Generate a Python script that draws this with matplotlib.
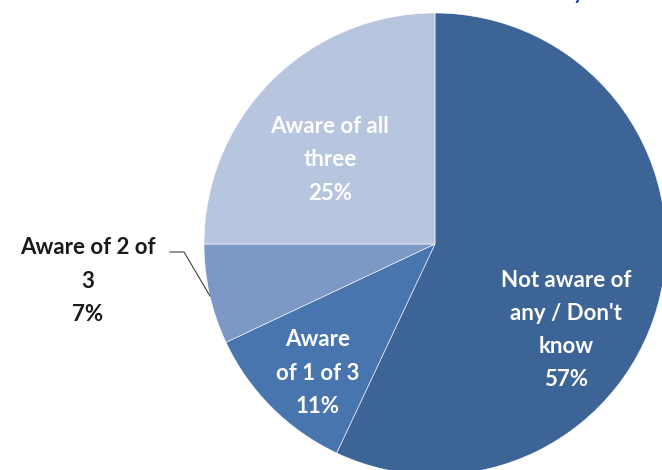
import matplotlib.pyplot as plt

# awareness shares, clockwise from 12 o'clock
categories = ["Not aware of\nany / Don't\nknow", "Aware\nof 1 of 3", "Aware of 2 of\n3", "Aware of all\nthree"]
shares = [57, 11, 7, 25]
colors = ['#3d6496', '#4875ad', '#7b98c6', '#b7c5de']
text_colors = ['white', 'white', '#1a1a1a', 'white']
# label anchor positions (pixels, y from top)
label_xy = [(566, 330), (318, 373), (88, 281), (330, 160)]

plt.rcParams['font.family'] = ['Lato', 'DejaVu Sans']

fig = plt.figure(figsize=(6.62, 4.70), dpi=100)
ax = fig.add_axes([0, 0, 1, 1])

ax.pie(shares, colors=colors, startangle=90, counterclock=False,
       center=(435, 470 - 244), radius=231,
       wedgeprops=dict(edgecolor='white', linewidth=0.4))

for cat, val, (x, y), tc in zip(categories, shares, label_xy, text_colors):
    ax.text(x, 470 - y, f"{cat}\n{val}%", ha='center', va='center',
            fontsize=16, fontweight='bold', color=tc, linespacing=1.72)

# leader line for the small slice
ax.plot([170, 184, 210], [470 - 252, 470 - 252, 470 - 296], color='#404040', lw=0.8)

ax.set_xlim(0, 662)
ax.set_ylim(0, 470)
ax.set_aspect('equal')
ax.axis('off')

# tail of the cut-off title in the top-right corner
fig.text(579 / 662, 1 + 2 / 470, "y", color='#1f3fae', fontsize=20,
         ha='center', va='baseline')

plt.savefig('out.png', dpi=100)
